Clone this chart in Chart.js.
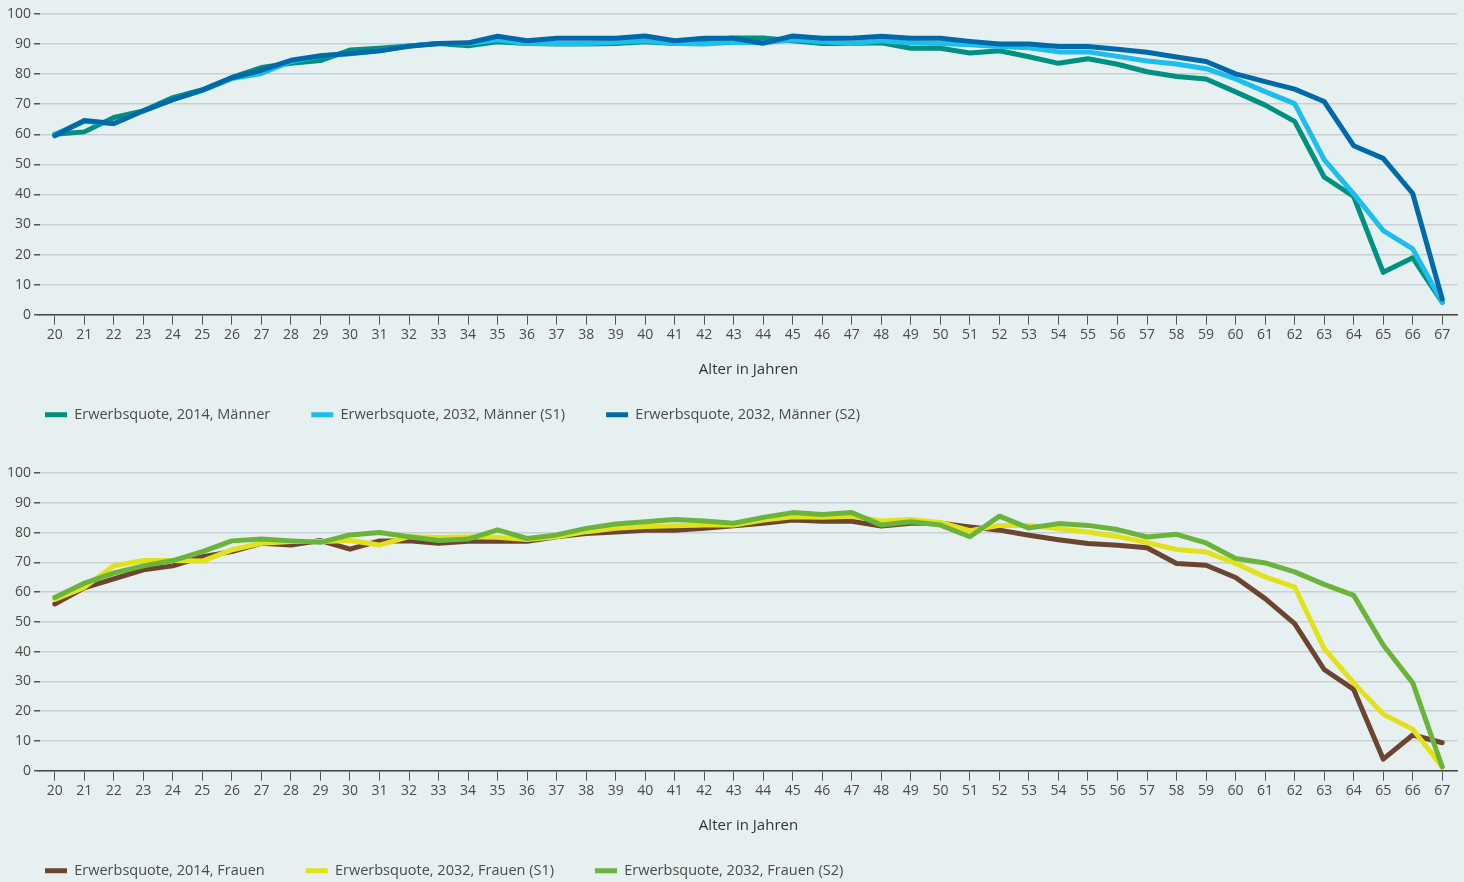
<!DOCTYPE html>
<html lang="de">
<head>
<meta charset="utf-8">
<script src="https://cdn.jsdelivr.net/npm/chart.js@4.4.1/dist/chart.umd.min.js"></script>
<style>
  html, body { margin: 0; padding: 0; background: #e7f0f1; overflow: hidden; }
  .box { position: absolute; left: 0; width: 1464px; }
  #boxMaenner { top: 0; height: 441px; }
  #boxFrauen { top: 442px; height: 450px; }
</style>
</head>
<body>
<div class="box" id="boxMaenner"><canvas id="graficoMaenner"></canvas></div>
<div class="box" id="boxFrauen"><canvas id="graficoFrauen"></canvas></div>
<script>
// ======== DADOS ===========
const alter = ['20','21','22','23','24','25','26','27','28','29','30','31','32','33','34','35',
  '36','37','38','39','40','41','42','43','44','45','46','47','48','49','50','51',
  '52','53','54','55','56','57','58','59','60','61','62','63','64','65','66','67'];

const yTicks = [0, 10, 20, 30, 40, 50, 60, 70, 80, 90, 100];

const maenner2014 = [60, 60.8, 65.6, 67.8, 72.2, 74.8, 78.9, 82.2, 83.6, 84.5, 88, 88.6, 89.4, 90.2, 89.4, 90.8,
  90.2, 90, 90, 90.2, 90.8, 90.2, 91.4, 92, 92, 91.1, 90.2, 90.2, 90.4, 88.6, 88.6, 87,
  87.8, 85.8, 83.6, 85.1, 83.3, 80.8, 79.2, 78.4, 74.1, 69.7, 64.3, 45.8, 39.3, 14.1, 18.9, 4.1];
const maennerS1 = [60, 64.3, 63.5, 67.8, 71.5, 74.6, 78.5, 80.2, 84.2, 86, 86.8, 87.8, 89.4, 90.2, 90.2, 91.4,
  90.2, 90.2, 90.2, 90.6, 91.1, 90.2, 90, 90.6, 90.4, 91.4, 90.8, 90.2, 91.1, 90.4, 90.2, 89.8,
  89.2, 88.8, 87.4, 87.4, 85.9, 84.4, 83.4, 81.8, 78.4, 74.2, 70.2, 51.6, 40.2, 28, 21.9, 4.1];
const maennerS2 = [59.5, 64.6, 63.6, 67.8, 71.5, 74.7, 78.8, 81.3, 84.6, 86.1, 86.9, 87.8, 89.3, 90.2, 90.4, 92.6,
  91.1, 91.9, 91.9, 91.9, 92.7, 91.1, 91.9, 91.9, 90.3, 92.7, 91.9, 91.9, 92.6, 91.9, 91.9, 90.9,
  90, 90, 89.2, 89.2, 88.3, 87.3, 85.7, 84.2, 80.1, 77.5, 75, 70.9, 56.2, 52, 40.3, 5.2];

const frauen2014 = [56, 61.4, 64.4, 67.5, 68.8, 71.9, 73.6, 76.4, 75.8, 77.3, 74.4, 77.2, 77.2, 76.4, 77.1, 77.1,
  77.1, 78.6, 79.7, 80.2, 80.8, 80.8, 81.4, 82.3, 83.1, 84.2, 83.8, 83.8, 82.2, 83.1, 83.1, 81.9,
  80.8, 79.1, 77.6, 76.3, 75.7, 74.9, 69.6, 69, 64.9, 57.8, 49.4, 34, 27.3, 3.9, 12, 9.4];
const frauenS1 = [57.5, 61.6, 68.8, 70.6, 70.6, 70.4, 74.2, 76.4, 77, 77, 77.3, 75.8, 78.6, 78.3, 78.6, 78.4,
  77.7, 78.6, 80.3, 81.4, 82, 82.3, 82.5, 82.5, 84.2, 85.3, 85.1, 85.5, 83.9, 84.4, 83.4, 80.6,
  82.4, 82.4, 81.3, 80.2, 78.7, 76.6, 74.3, 73.5, 69.6, 65.1, 61.7, 41, 29.5, 19, 13.9, 1.3];
const frauenS2 = [58.2, 63, 66.4, 68.8, 70.6, 73.6, 77.2, 77.8, 77.2, 76.7, 79.2, 80, 78.6, 77.3, 77.8, 80.9,
  78, 79.2, 81.4, 82.9, 83.6, 84.4, 83.9, 83.1, 85.1, 86.7, 86.1, 86.7, 82.5, 83.6, 82.5, 78.6,
  85.5, 81.5, 83, 82.4, 81, 78.5, 79.4, 76.5, 71.3, 69.8, 66.8, 62.6, 58.9, 42.2, 29.5, 1.3];

// ======== GRÁFICOS ==========
const fonte = "'Open Sans', sans-serif";

function serie(label, data, cor, ordem) {
  return {
    label: label,
    data: data,
    borderColor: cor,
    backgroundColor: cor,
    borderWidth: 5,
    borderCapStyle: 'round',
    borderJoinStyle: 'round',
    pointRadius: 0,
    pointStyle: 'line',
    tension: 0,
    fill: false,
    order: ordem
  };
}

function opcoes(padTop, padBottom) {
  return {
    responsive: true,
    maintainAspectRatio: false,
    animation: false,
    layout: { padding: { left: 4, right: 7, top: padTop, bottom: padBottom } },
    plugins: {
      legend: {
        position: 'bottom',
        align: 'start',
        labels: {
          usePointStyle: true,
          pointStyleWidth: 22,
          padding: 41,
          color: '#4a4a4a',
          font: { family: fonte, size: 14.5 },
          sort: (a, b) => a.datasetIndex - b.datasetIndex
        }
      },
      tooltip: { enabled: false }
    },
    scales: {
      x: {
        offset: true,
        grid: {
          offset: false,
          drawOnChartArea: false,
          drawTicks: true,
          tickLength: 10,
          tickColor: '#555',
          lineWidth: 1
        },
        border: { display: true, color: '#444', width: 1.5 },
        ticks: {
          color: '#4a4a4a',
          font: { family: fonte, size: 14 },
          padding: 2,
          maxRotation: 0,
          autoSkip: false
        },
        title: {
          display: true,
          text: 'Alter in Jahren',
          color: '#333',
          font: { family: fonte, size: 15 },
          // negative bottom pulls the legend closer to the axis title
          padding: { top: 15, bottom: -12 }
        }
      },
      y: {
        min: 0,
        max: 100,
        afterBuildTicks: axis => { axis.ticks = yTicks.map(v => ({ value: v })); },
        afterFit: axis => { axis.width = 36; },
        grid: {
          color: '#c9cfd2',
          lineWidth: 1.5,
          drawTicks: true,
          tickLength: 6,
          tickColor: '#555',
          tickWidth: 1.5
        },
        border: { display: false },
        ticks: {
          color: '#4a4a4a',
          font: { family: fonte, size: 14 },
          padding: 3
        }
      }
    }
  };
}

// Männer
new Chart(document.getElementById('graficoMaenner'), {
  type: 'line',
  data: {
    labels: alter,
    datasets: [
      serie('Erwerbsquote, 2014, Männer', maenner2014, '#00907f', 3),
      serie('Erwerbsquote, 2032, Männer (S1)', maennerS1, '#1ebdee', 2),
      serie('Erwerbsquote, 2032, Männer (S2)', maennerS2, '#0069a9', 1)
    ]
  },
  options: opcoes(14, 9)
});

// Frauen
new Chart(document.getElementById('graficoFrauen'), {
  type: 'line',
  data: {
    labels: alter,
    datasets: [
      serie('Erwerbsquote, 2014, Frauen', frauen2014, '#6b4530', 3),
      serie('Erwerbsquote, 2032, Frauen (S1)', frauenS1, '#e2e21c', 2),
      serie('Erwerbsquote, 2032, Frauen (S2)', frauenS2, '#6ab43c', 1)
    ]
  },
  options: opcoes(31, 4)
});
</script>
</body>
</html>
